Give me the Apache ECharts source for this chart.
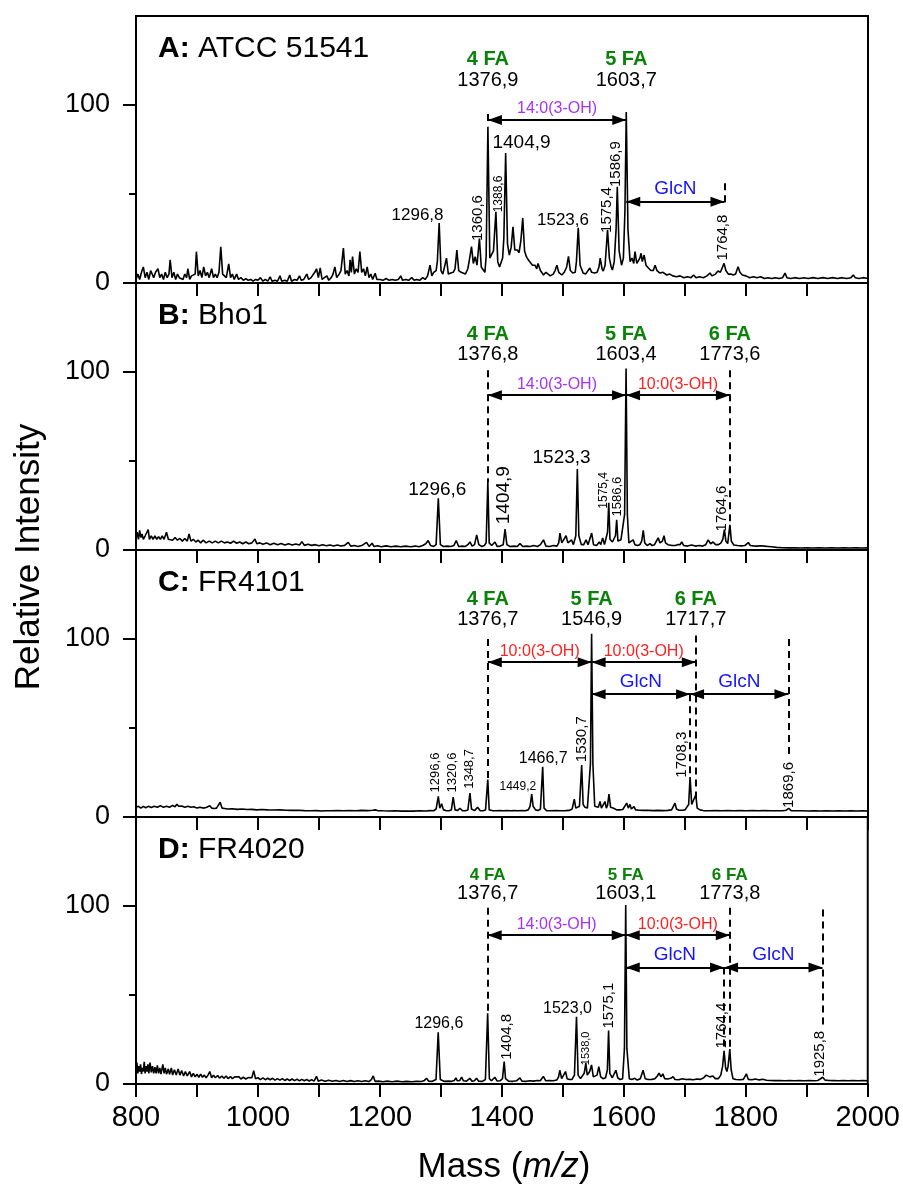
<!DOCTYPE html>
<html><head><meta charset="utf-8">
<script src="https://cdn.jsdelivr.net/npm/echarts@6.0.0/dist/echarts.min.js"></script>
<style>html,body{margin:0;padding:0;background:#fff}#c{width:903px;height:1192px}</style>
</head><body><div id="c"></div>
<script>
// ---------------- DATA ----------------
const xTickLabels = [800, 1000, 1200, 1400, 1600, 1800, 2000];
const yTickLabels = [0, 100];
const panelTitles = [['A:', 'ATCC 51541'], ['B:', 'Bho1'], ['C:', 'FR4101'], ['D:', 'FR4020']];

const specA = [[800,2],[803,5],[806,2],[809,6],[812,9],[815,3],[818,6],[821,2],[824,7],[826,8],[829,3],[832,6],[836,8],[839,3],[842,5],[845,2],[848,6],[851,3],[854,5],[856,13],[859,3],[862,6],[865,2],[868,5],[871,3],[874,4],[877,2],[880,5],[883,3],[885,8],[888,2],[891,4],[894,3],[897,5],[899,17.6],[902,4],[905,7],[908,3],[911,9],[914,4],[917,6],[920,3],[924,8],[927,3],[930,5],[933,3],[936,6],[939,20.4],[942,5],[945,4],[948,3],[952,10.7],[955,3],[958,5],[961,2],[965,5],[968,2],[972,3],[976,1.5],[980,2.5],[984,1.5],[988,2],[992,1],[996,2],[1000,1.5],[1004,3],[1008,1],[1012,2],[1016,1],[1020,3.5],[1023,1],[1028,1.5],[1032,1],[1036,4],[1039,1],[1044,1.5],[1048,1],[1052,4.5],[1055,1],[1060,2],[1064,1.5],[1068,4],[1071,1.5],[1075,2],[1080,5],[1083,2],[1087,3],[1090,2],[1093,6],[1096,8],[1099,3],[1102,8.5],[1105,2],[1109,3],[1113,4],[1116,1.5],[1120,3],[1123,5],[1126,9],[1129,3],[1133,5],[1136,7],[1140,19.6],[1143,5],[1146,7],[1149,4],[1151,13],[1153,6],[1155,14.8],[1158,5],[1161,8],[1164,6],[1167,17.6],[1170,6],[1173,8],[1176,4],[1179,9],[1182,3],[1185,5],[1188,2],[1192,5.5],[1195,2],[1200,2],[1205,1.5],[1210,2.5],[1215,1.5],[1220,2],[1225,1.5],[1230,2],[1234,4],[1237,1.5],[1242,2],[1247,1.5],[1252,3],[1256,1.5],[1260,2],[1265,1.5],[1270,3],[1274,2],[1278,4],[1282,10],[1285,4],[1288,6],[1292,7],[1294,12],[1297,33.7],[1300,7],[1303,5],[1306,6],[1309,14],[1312,5],[1316,5.6],[1320,6],[1323,8],[1326,18.5],[1329,7],[1333,6],[1336,6.7],[1340,5],[1344,8],[1347,14],[1350,20.4],[1353,11],[1356,14.8],[1359,10],[1363,25],[1366,9],[1369,8.4],[1372,6],[1374,15],[1376.9,87.6],[1380,14],[1383,12.9],[1386,18],[1390,40],[1393,12],[1396,9],[1398,8.4],[1401,14],[1403,25],[1406,73],[1409,22],[1412,15.7],[1415,20],[1418,31.6],[1421,18.5],[1425,18.5],[1428,17],[1431,24],[1434,36.5],[1437,18],[1440,14.8],[1443,13],[1446,12],[1450,10],[1454,10],[1457,8],[1459,11],[1463,7],[1468,4.5],[1472,6],[1475,5],[1479,4],[1484,5],[1487,7],[1490,10],[1493,6],[1498,4.5],[1502,6],[1506,9],[1509,15],[1512,7],[1516,5.6],[1520,6],[1522,12],[1525,31],[1528,10],[1533,5.6],[1537,5],[1540,6],[1544,8.4],[1547,6],[1552,5.6],[1556,6],[1559,9],[1561,14],[1564,8],[1566,6.7],[1569,10],[1573,29.8],[1576,14],[1579,9],[1581,7.3],[1584,12],[1587,30],[1589,54],[1592,18],[1596,10],[1599,14],[1601.5,40],[1603.7,96],[1606.5,30],[1610,12],[1613,14],[1616,11],[1618,17.6],[1621,11],[1623,11],[1626,14],[1628,16.7],[1630,12],[1633,15.7],[1636,10],[1640,8.4],[1644,7],[1648,7],[1651,10],[1654,7],[1659,5.6],[1664,6],[1670,4.5],[1675,5],[1680,4],[1686,3.5],[1692,4],[1698,3],[1704,3.5],[1710,3],[1714,4.5],[1718,3],[1724,3.5],[1730,3],[1736,4],[1741,5.6],[1744,4],[1746,4.5],[1750,5],[1754,6.7],[1758,6],[1761,7],[1764,11],[1767,7],[1771,5],[1775,5],[1779,4.5],[1783,5],[1787,9.2],[1790,6],[1794,4.5],[1800,4],[1806,3],[1812,3.5],[1818,3],[1824,3.5],[1830,2.5],[1836,3],[1842,2.5],[1848,3],[1854,2.5],[1860,3],[1864,5.6],[1867,3],[1873,2.5],[1880,3],[1888,2.5],[1895,3],[1902,2.5],[1910,3],[1918,2.5],[1926,3],[1934,2.5],[1942,3],[1950,2.5],[1958,3],[1965,2.5],[1972,3],[1976,4.5],[1979,3],[1985,2.5],[1992,3],[2000,2.5]];

const specB = [[800,7],[802,10],[804,6],[806,11],[808,7],[810,9],[812,6],[815,8],[818,7],[820,11.4],[822,6],[825,8],[828,6],[831,8],[834,6],[837,7.5],[840,6],[843,8],[846,6],[850,10],[853,6],[856,7],[860,5.5],[864,7],[868,5.5],[872,6.5],[876,5],[880,6.5],[884,5],[887,9],[890,5],[894,6],[898,4.5],[902,5.5],[906,4],[910,5.5],[915,4],[920,5],[925,4],[930,5],[935,4],[940,5],[945,4],[950,4.5],[955,3.8],[960,5],[965,3.8],[970,4.5],[975,3.5],[980,4.5],[985,3.5],[990,4],[995,6.2],[998,3.5],[1003,4],[1008,3.2],[1014,4],[1020,3],[1026,3.8],[1032,3],[1038,3.6],[1044,2.8],[1050,3.5],[1056,2.8],[1062,3.4],[1068,2.8],[1072,4.7],[1076,2.6],[1082,3.2],[1088,2.6],[1094,3],[1100,2.4],[1106,3],[1112,2.4],[1118,2.8],[1124,2.3],[1130,2.8],[1136,2.2],[1142,2.6],[1148,4.3],[1152,2.2],[1158,2.5],[1164,2],[1170,2.5],[1178,4.3],[1182,2],[1187,3.8],[1190,2],[1196,2.4],[1202,1.8],[1210,2.3],[1218,1.8],[1226,2.2],[1234,1.8],[1242,2.2],[1250,1.8],[1258,2.2],[1264,1.8],[1270,2.5],[1275,3.5],[1279,5.3],[1283,2.5],[1288,2],[1292,3],[1295.6,29],[1299,3],[1304,2],[1310,2.2],[1316,2],[1321,2.5],[1325,5.3],[1329,2],[1335,2.2],[1340,2],[1344,3],[1347.5,4.5],[1351,2.2],[1355,3],[1358.5,8.5],[1362,3],[1367,2],[1371,2.5],[1374,4],[1376.8,38.3],[1379,4],[1383,2.5],[1388.5,4.5],[1392,2],[1397,2.2],[1402,3],[1405,11.7],[1408,3],[1413,2],[1420,2.2],[1425,2],[1429.5,3.6],[1434,2],[1440,2.2],[1446,2],[1452,2.5],[1458,2],[1463,3],[1468,5.7],[1472,2.2],[1478,2],[1484,2.5],[1490,2.2],[1493,4],[1495,9.5],[1498,4],[1501,5],[1505,8],[1508,4],[1511,3.5],[1514,5.7],[1517,3],[1521,8],[1523.5,45.5],[1526,8],[1530,3],[1534,3],[1537.7,5.7],[1541,3],[1544,4],[1547,9.5],[1550,3],[1555,2.5],[1559.5,4.5],[1562,3],[1565,6.8],[1568,3],[1571,4],[1573,10],[1575,26.5],[1577,6],[1581,4.5],[1584,4],[1586,8],[1588,17],[1590,5],[1593,4],[1595,5.7],[1598,5],[1601,20],[1603.4,102],[1605.5,20],[1608,4],[1611,3],[1615,5.7],[1618,3],[1622,2.5],[1626,3],[1629,5],[1631.6,11],[1634,4],[1638,2.5],[1642.6,3.6],[1646,2.5],[1650,3],[1653,4],[1656,6.8],[1659,4],[1663,5],[1665.6,8],[1668,4],[1672,3],[1675,3.6],[1679,2.5],[1684,2.5],[1688,3],[1692,3],[1694.6,4.5],[1698,2.5],[1704,2.2],[1711,2.8],[1717,2.2],[1723,2.5],[1729,2.2],[1734,3],[1738,5.7],[1742,3.5],[1746,4.5],[1750,3],[1755,3],[1759,4],[1762,6],[1764.6,11.4],[1767,5],[1770,3.6],[1771.5,8],[1773.6,14.2],[1776,5],[1780,2.8],[1786,2.5],[1792,2.3],[1798,2.5],[1801,3],[1803.8,4.2],[1807,2.5],[1812,2.3],[1818,2.2],[1824,2.4],[1830,2.2],[1836,2],[1842,1.8],[1850,1.5],[1860,1.3],[1870,1.2],[1880,1.2],[1890,1.1],[1900,1.2],[1910,1.1],[1920,1.2],[1930,1.1],[1940,1.2],[1950,1.1],[1960,1.2],[1970,1.1],[1980,1.2],[1990,1.1],[2000,1.2]];

const specC = [[800,5.5],[804,6],[808,5],[812,6],[816,5.2],[820,6],[825,5.3],[830,6],[835,5.5],[840,6.3],[845,5.5],[850,6],[855,5.5],[860,6.5],[864,5.8],[867,7.2],[870,6],[875,6.2],[880,5.5],[885,6],[890,5.5],[895,5.8],[900,5],[905,5.5],[910,5],[915,5.3],[918,5],[921,6.3],[924,5],[928,4.8],[932,5],[935,5],[938,8.3],[941,5],[945,4.8],[950,4.5],[958,4.6],[966,4.3],[974,4.5],[982,4.2],[990,4.3],[998,4],[1006,4.2],[1016,4],[1026,3.9],[1036,4],[1046,3.8],[1056,3.7],[1066,3.8],[1076,3.6],[1086,3.5],[1096,3.6],[1104,3.4],[1112,3.5],[1120,3.5],[1130,3.6],[1140,3.5],[1150,3.6],[1160,3.5],[1170,3.7],[1180,3.6],[1188,3.8],[1192,4],[1196,3.6],[1205,3.5],[1215,3.4],[1225,3.5],[1235,3.3],[1245,3.4],[1255,3.3],[1265,3.5],[1275,3.4],[1282,3.6],[1288,3.5],[1292,4.5],[1295.6,11.6],[1298,5],[1301,7.4],[1304,4],[1308,3.6],[1313,3.5],[1317,4],[1320,11.2],[1323,4],[1327,3.6],[1331,4.9],[1335,3.6],[1340,3.5],[1344,4],[1347.5,13.4],[1350,4.5],[1355,3.6],[1360,5.5],[1364,3.6],[1369,3.5],[1373,4],[1376.7,21],[1379,4],[1384,3.6],[1390,3.5],[1396,3.6],[1402,3.5],[1408,3.6],[1414,3.5],[1420,3.6],[1426,3.5],[1432,3.6],[1438,3.5],[1443,4],[1446,6],[1448.7,12.9],[1451,6],[1455,4],[1459,3.6],[1463,4.5],[1466.7,28.2],[1469,5],[1473,3.6],[1480,3.5],[1488,3.6],[1496,3.5],[1504,3.6],[1510,3.7],[1515,4.5],[1518.5,10],[1521,5],[1524,4],[1527,6],[1530.6,29.2],[1533,7],[1536,5.5],[1540,5],[1543,6],[1545,30],[1546.9,103],[1549,30],[1552,6],[1555,5.5],[1558,5.5],[1560.7,8.7],[1563,5],[1566,5.5],[1568.8,8.7],[1571,5],[1573,6.5],[1575.4,12.9],[1578,5.5],[1583,4.9],[1588,4],[1593,4],[1598,4.2],[1601,5],[1604.4,7.8],[1607,5],[1609.8,7.1],[1612,4.5],[1616.4,5.8],[1619,4],[1625,3.8],[1632,3.7],[1640,3.7],[1648,3.6],[1656,3.7],[1664,3.6],[1672,3.7],[1678,4],[1681,5],[1683.6,7.8],[1686,4.5],[1690,3.8],[1696,3.8],[1700,4],[1703,4.9],[1706,7],[1708.3,22.5],[1711,7],[1714,6],[1717.7,12.5],[1720,5],[1724.6,4],[1730,3.6],[1740,3.5],[1750,3.6],[1760,3.5],[1770,3.6],[1780,3.5],[1790,3.6],[1800,3.5],[1810,3.6],[1820,3.5],[1830,3.6],[1840,3.5],[1850,3.5],[1860,3.5],[1866,3.8],[1870,4.9],[1874,3.6],[1882,3.5],[1892,3.5],[1902,3.4],[1912,3.5],[1922,3.4],[1932,3.5],[1942,3.4],[1952,3.5],[1962,3.4],[1972,3.5],[1982,3.4],[1992,3.5],[2000,3.4]];

const specD = [[800,9],[801.5,12],[803,6],[804.5,10],[806,7],[807.5,11],[809,5.6],[810.5,9],[812,7],[813.5,12.5],[815,6],[816.5,10],[818,7],[819.5,11],[821,6],[823,12],[825,6.5],[827,10],[829,6],[831,9.5],[833,6],[835,10.5],[837,6],[839,9],[841,5.5],[844,11],[846,6],[848,9],[850,5.5],[853,8.5],[855,5.5],[858,9],[860,5],[863,8],[866,5],[869,8.5],[872,5],[875,7.5],[878,4.5],[881,7],[884,4.5],[888,7],[891,4],[894,6],[897,4],[900,5.5],[903,3.8],[906,5.5],[909,3.8],[912,5],[915,3.5],[918,5],[921,7],[924,3.5],[927,5],[930,3.5],[934,4.8],[937,3.3],[941,4.5],[944,3.2],[948,4.5],[951,3],[955,4.2],[958,3],[962,4],[965,3],[969,4],[972,2.8],[976,3.8],[980,2.8],[984,3.6],[987,2.6],[990,3.5],[993,7.5],[996,3],[1000,3.5],[1004,2.5],[1008,3.4],[1012,2.4],[1016,3.2],[1020,2.4],[1024,3.2],[1028,2.2],[1032,3],[1036,2.2],[1040,3],[1044,2],[1048,2.8],[1052,2],[1056,2.8],[1060,1.9],[1064,2.7],[1068,1.8],[1072,2.6],[1076,1.8],[1080,2.5],[1084,1.7],[1088,2.4],[1092,1.6],[1096,4.3],[1099,1.6],[1104,2.2],[1110,1.5],[1116,2.1],[1122,1.5],[1128,2],[1134,1.4],[1140,2],[1146,1.4],[1152,1.9],[1158,1.4],[1164,1.8],[1170,1.4],[1176,1.8],[1182,1.4],[1186,2.5],[1189,4.5],[1192,1.5],[1198,1.6],[1205,1.3],[1212,1.6],[1220,1.3],[1228,1.6],[1236,1.3],[1244,1.5],[1252,1.3],[1260,1.5],[1268,1.4],[1273,2],[1276.5,3.2],[1280,1.6],[1286,1.5],[1292,2.5],[1295.6,29],[1299,2.5],[1305,1.5],[1312,1.6],[1318,1.5],[1322,2],[1324.6,3.4],[1327,1.8],[1331,2],[1334,3.8],[1337,1.8],[1342,1.6],[1347.5,3.2],[1351,1.6],[1355,1.8],[1358.5,3.2],[1362,1.6],[1368,1.5],[1373,2.5],[1376.7,39.7],[1379.5,3],[1383,1.8],[1388.5,3.8],[1392,1.7],[1397,1.8],[1401,3],[1403.8,12.6],[1406,3],[1411,1.6],[1418,1.5],[1424,1.8],[1429.5,3.4],[1433,1.6],[1440,1.5],[1446,1.8],[1452,1.6],[1458,2],[1463,1.8],[1468,4.3],[1472,1.8],[1478,2],[1484,1.8],[1490,2.2],[1493,4],[1495,7.7],[1498,3],[1501,3.5],[1504.4,7],[1507,3],[1511,2.5],[1515,2.6],[1519,5],[1522.4,37.8],[1525,5],[1529,3],[1532,4],[1535,6],[1537.7,11.7],[1540,5],[1542,4.5],[1544,7],[1547,10.7],[1550,4],[1553,3.5],[1556,5],[1559,9.8],[1562,4],[1566,3],[1570,3.5],[1573,8],[1575,30],[1577,6],[1581,3.5],[1584,4],[1587,7.7],[1590,3.5],[1594,2.5],[1598,3],[1601,20],[1603.1,100.5],[1605,20],[1609,3],[1613,2.5],[1618,3.2],[1622,2.2],[1627,3],[1631.6,7.7],[1635,3],[1640,2.5],[1646,2.6],[1651,3],[1655,4.5],[1657.8,6.1],[1661,4],[1664,5.7],[1667,3],[1672,2.8],[1677,3.2],[1680.8,4.1],[1684,2.5],[1690,2.4],[1696,3],[1702,2.5],[1708,2.6],[1714,2.4],[1720,2.8],[1726,2.6],[1731,3.5],[1735,5],[1738,6],[1741,4],[1746,4.5],[1750,3],[1755,3],[1759,5],[1762,10],[1764.4,18.6],[1767,9],[1769,7],[1771,10],[1773.8,19.6],[1776,8],[1779,3],[1784,2.5],[1790,2.4],[1796,2.6],[1801,5.7],[1804,2.6],[1810,2.4],[1816,2.8],[1822,2.3],[1828,2.7],[1834,2.1],[1840,2],[1848,1.9],[1856,2],[1864,1.8],[1872,1.9],[1880,1.8],[1888,1.9],[1896,1.8],[1904,1.9],[1912,1.8],[1918,2],[1922,2.8],[1926,3.8],[1930,2.2],[1936,2],[1944,1.9],[1952,1.8],[1960,1.9],[1968,1.8],[1976,1.9],[1984,1.8],[1992,1.9],[2000,1.8]];

// Fatty-acid species: [m/z, species, mass text]
const faA = [[1376.9,'4 FA','1376,9'],[1603.7,'5 FA','1603,7']];
const faB = [[1376.8,'4 FA','1376,8'],[1603.4,'5 FA','1603,4'],[1773.6,'6 FA','1773,6']];
const faC = [[1376.7,'4 FA','1376,7'],[1546.9,'5 FA','1546,9'],[1717.7,'6 FA','1717,7']];
const faD = [[1376.7,'4 FA','1376,7'],[1603.1,'5 FA','1603,1'],[1773.8,'6 FA','1773,8']];

// Peak labels: [m/z, intensity anchor, text]  (horizontal / vertical)
const hLabA = [[1261.5,38,'1296,8'],[1432,79,'1404,9'],[1500,35.4,'1523,6']];
const vLabA = [[1359.8,36.5,'1360,6'],[1395,50,'1388,6'],[1572,41,'1575,4'],[1586,66.8,'1586,9'],[1762,25.5,'1764,8']];
const hLabB = [[1294,34,'1296,6'],[1497.7,52,'1523,3']];
const vLabB = [[1403,30.8,'1404,9'],[1567,33.5,'1575,4'],[1590,30,'1586,6'],[1760,23.3,'1764,6']];
const hLabC = [[1426,17,'1449,2'],[1467.6,33,'1466,7']];
const vLabC = [[1291,25,'1296,6'],[1319,25,'1320,6'],[1347,27,'1348,7'],[1530.6,43.7,'1530,7'],[1695,35,'1708,3'],[1870,18,'1869,6']];
const hLabD = [[1296.7,34.2,'1296,6'],[1507.7,42.4,'1523,0']];
const vLabD = [[1407.6,26.5,'1404,8'],[1537.7,20,'1538,0'],[1575,44,'1575,1'],[1761,32.8,'1764,4'],[1922,17,'1925,8']];

// Dashed marker lines: [m/z, top, bottom]
const dashA = [[1376.9,95,88],[1764.8,56,43]];
const dashB = [[1376.8,101,38],[1773.6,101,7]];
const dashC = [[1376.7,100,21],[1717.7,102,10],[1708.3,69,23],[1869.6,100,33]];
const dashD = [[1376.7,99,40],[1773.8,99,20],[1764.4,65.5,19],[1925.8,98,32]];

// Double arrows: [from m/z, to m/z, level, text]
const arrowA = [[1376.9,1603.7,91.6,'14:0(3-OH)'],[1603.7,1764.8,45.7,'GlcN']];
const arrowB = [[1376.8,1603.4,87,'14:0(3-OH)'],[1603.4,1773.6,87,'10:0(3-OH)']];
const arrowC = [[1376.7,1546.9,87,'10:0(3-OH)'],[1546.9,1717.7,87,'10:0(3-OH)'],[1546.9,1708.3,69,'GlcN'],[1708.3,1869.6,69,'GlcN']];
const arrowD = [[1376.7,1603.1,83.6,'14:0(3-OH)'],[1603.1,1773.8,83.6,'10:0(3-OH)'],[1603.1,1764.4,65.5,'GlcN'],[1764.4,1925.8,65.5,'GlcN']];

// ---------------- LAYOUT / STYLE ----------------
const FONT = '"Liberation Sans", Arial, Helvetica, sans-serif';
const GREEN = '#0a820a', PURPLE = '#a733f2', RED = '#ff1f1f', BLUE = '#1414ff';
const GRID_TOP = [16, 283, 550, 817], GRID_H = 267, GRID_L = 136, GRID_W = 732;
const arrowColor = {'14:0(3-OH)': PURPLE, '10:0(3-OH)': RED, 'GlcN': BLUE};
const arrowFont = {'14:0(3-OH)': 16, '10:0(3-OH)': 16, 'GlcN': 19};
const panels = [
  {spec: specA, fa: faA, h: hLabA, v: vLabA, dash: dashA, arrows: arrowA, faY: [125.8, 113.5], faSize: 20,
   sizes: {'1404,9': 19, '1388,6': 12}},
  {spec: specB, fa: faB, h: hLabB, v: vLabB, dash: dashB, arrows: arrowB, faY: [121.2, 109.8], faSize: 20,
   sizes: {'1296,6': 19, '1523,3': 19, '1404,9': 19, '1575,4': 12, '1586,6': 13}},
  {spec: specC, fa: faC, h: hLabC, v: vLabC, dash: dashC, arrows: arrowC, faY: [122.3, 111], faSize: 20,
   sizes: {'1449,2': 12, '1466,7': 16, '1296,6': 13, '1320,6': 13, '1348,7': 13}},
  {spec: specD, fa: faD, h: hLabD, v: vLabD, dash: dashD, arrows: arrowD, faY: [117, 106.9], faSize: 17,
   sizes: {'1296,6': 16, '1523,0': 16, '1538,0': 11}}
];
const noBorder = {textBorderWidth: 0, textBorderColor: 'transparent', textShadowBlur: 0, opacity: 1};
const HEAD = {symbol: 'triangle', symbolSize: [10, 14], symbolOffset: [0, 7]};

const grids = [], xAxes = [], yAxes = [], series = [], graphics = [];
panels.forEach((p, i) => {
  grids.push({left: GRID_L, top: GRID_TOP[i], width: GRID_W, height: GRID_H, show: true,
    borderColor: '#000', borderWidth: 2, backgroundColor: 'transparent'});
  xAxes.push({gridIndex: i, type: 'value', min: 800, max: 2000, interval: 100,
    axisLine: {show: true, onZero: false, lineStyle: {color: '#000', width: 2}},
    axisTick: {show: true, length: 13, lineStyle: {color: '#000', width: 2}},
    axisLabel: i === 3 ? {show: true, customValues: xTickLabels, formatter: v => String(v), fontSize: 29, color: '#000', margin: 19, fontFamily: FONT} : {show: false},
    splitLine: {show: false}});
  yAxes.push({gridIndex: i, type: 'value', position: 'left', min: 0, max: 150, interval: 50,
    axisLine: {show: true, onZero: false, lineStyle: {color: '#000', width: 2}},
    axisTick: {show: true, customValues: yTickLabels, length: 13, lineStyle: {color: '#000', width: 2}},
    axisLabel: {show: true, customValues: yTickLabels, formatter: v => String(v), fontSize: 27, color: '#000', margin: 26, fontFamily: FONT},
    splitLine: {show: false}});
  yAxes.push({gridIndex: i, type: 'value', position: 'left', min: 0, max: 150, interval: 50,
    axisLine: {show: false},
    axisTick: {show: true, customValues: [50], length: 7, lineStyle: {color: '#000', width: 2}},
    axisLabel: {show: false}, splitLine: {show: false}});

  const ml = [];
  p.dash.forEach(d => {
    ml.push([{coord: [d[0], d[1]], symbol: 'none', lineStyle: {type: [7, 5], width: 2, color: '#000'}, label: {show: false}},
             {coord: [d[0], d[2]], symbol: 'none'}]);
  });
  p.arrows.forEach(a => {
    ml.push([Object.assign({coord: [a[0], a[2]], lineStyle: {type: 'solid', width: 2, color: '#000'},
              label: Object.assign({show: true, position: 'middle', formatter: a[3], color: arrowColor[a[3]], fontSize: arrowFont[a[3]], fontFamily: FONT, distance: 3}, noBorder)}, HEAD),
             Object.assign({coord: [a[1], a[2]]}, HEAD)]);
  });
  series.push({type: 'line', xAxisIndex: i, yAxisIndex: 2 * i, data: p.spec, symbol: 'none', showSymbol: false,
    lineStyle: {color: '#000', width: 1.6}, silent: true, animation: false, z: 3,
    markLine: {silent: true, animation: false, symbol: 'none',
      itemStyle: {color: '#000', opacity: 1}, emphasis: {disabled: true}, data: ml}});

  const items = [];
  p.fa.forEach(f => {
    items.push({name: f[1], value: [f[0], p.faY[0]], label: Object.assign({fontSize: p.faSize, fontWeight: 'bold', color: GREEN}, noBorder)});
    items.push({name: f[2], value: [f[0], p.faY[1]], label: Object.assign({fontSize: 20, color: '#000'}, noBorder)});
  });
  p.h.forEach(l => items.push({name: l[2], value: [l[0], l[1]], label: Object.assign({fontSize: p.sizes[l[2]] || 17, color: '#000'}, noBorder)}));
  p.v.forEach(l => items.push({name: l[2], value: [l[0], l[1]], label: Object.assign({fontSize: p.sizes[l[2]] || 15, color: '#000', rotate: 90}, noBorder)}));
  series.push({type: 'scatter', xAxisIndex: i, yAxisIndex: 2 * i, symbolSize: 0, silent: true, animation: false, z: 5,
    itemStyle: {color: '#000', opacity: 1},
    label: Object.assign({show: true, position: 'inside', formatter: '{b}', align: 'center', verticalAlign: 'middle', fontFamily: FONT, color: '#000'}, noBorder),
    emphasis: {disabled: true}, data: items});

  graphics.push({type: 'text', x: 158, y: GRID_TOP[i] + 33, silent: true,
    style: {text: '{b|' + panelTitles[i][0] + '}{n| ' + panelTitles[i][1] + '}', verticalAlign: 'middle', align: 'left',
      rich: {b: {fontSize: 30, fontWeight: 'bold', fontFamily: FONT, fill: '#000'}, n: {fontSize: 30, fontFamily: FONT, fill: '#000'}}}});
});

graphics.push({type: 'text', x: 29, y: 557, rotation: Math.PI / 2, silent: true,
  style: {text: 'Relative Intensity', fontSize: 35, fontFamily: FONT, fill: '#000', align: 'center', verticalAlign: 'middle'}});
graphics.push({type: 'text', x: 504, y: 1167, silent: true,
  style: {text: '{n|Mass (}{i|m/z}{n|)}', align: 'center', verticalAlign: 'middle',
    rich: {n: {fontSize: 35, fontFamily: FONT, fill: '#000'}, i: {fontSize: 35, fontStyle: 'italic', fontFamily: FONT, fill: '#000'}}}});

const chart = echarts.init(document.getElementById('c'), null, {renderer: 'canvas'});
chart.setOption({animation: false, backgroundColor: '#fff', textStyle: {fontFamily: FONT},
  grid: grids, xAxis: xAxes, yAxis: yAxes, series: series, graphic: graphics});
</script>
</body></html>
